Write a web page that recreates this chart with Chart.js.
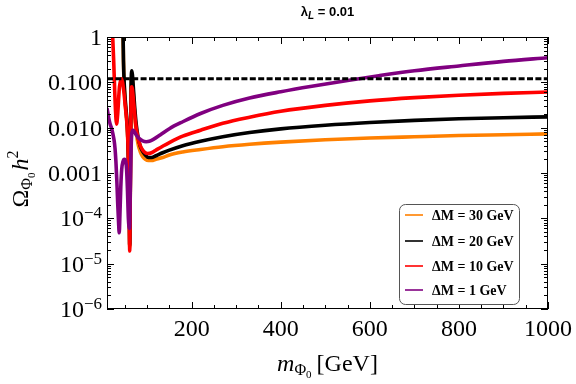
<!DOCTYPE html>
<html><head><meta charset="utf-8">
<script src="https://cdn.jsdelivr.net/npm/chart.js@4.4.1/dist/chart.umd.min.js"></script>
<style>html,body{margin:0;padding:0;background:#fff}</style>
</head><body>
<canvas id="c" width="576" height="384"></canvas>
<script>
// ---------- data ----------
const xMajorTicks = [200, 400, 600, 800, 1000];
const xMinorTicks = [50, 100, 150, 250, 300, 350, 450, 500, 550, 650, 700, 750, 850, 900, 950];
const yMajorTicks = [1e-6, 1e-5, 1e-4, 1e-3, 1e-2, 1e-1, 1];
const yTickLabels = [["10", "\u22126"], ["10", "\u22125"], ["10", "\u22124"], ["0.001", ""], ["0.010", ""], ["0.100", ""], ["1", ""]];
const seriesNames = ["\u0394M = 30 GeV", "\u0394M = 20 GeV", "\u0394M = 10 GeV", "\u0394M = 1 GeV"];
const relicValue = 0.12;

const mass30 = [44, 46, 47, 48.5, 51, 54, 56, 58, 60, 61, 62, 63, 64, 65.5, 67, 69, 72, 76, 80, 85, 90, 96, 103, 110, 120, 135, 150, 180, 220, 270, 330, 400, 500, 600, 700, 800, 900, 1000];
const omega30 = [3, 1.1, 0.28, 0.09, 0.035, 0.016, 0.008, 0.002, 1.4e-4, 2.3e-5, 1.8e-4, 0.004, 0.05, 0.14, 0.12, 0.06, 0.02, 0.0075, 0.0042, 0.0029, 0.0023, 0.002, 0.00188, 0.00188, 0.002, 0.0022, 0.0025, 0.0029, 0.0033, 0.0038, 0.0043, 0.0048, 0.0054, 0.0059, 0.0063, 0.0067, 0.007, 0.0073];

const mass20 = [40, 44, 46, 47, 48.5, 51, 54, 56, 58, 60, 61, 62, 63, 64, 65.5, 67, 69, 72, 76, 80, 85, 90, 96, 103, 110, 120, 135, 150, 180, 220, 270, 330, 400, 500, 600, 700, 800, 900, 1000];
const omega20 = [4, 2, 1.2, 0.3, 0.1, 0.04, 0.018, 0.009, 0.002, 1.5e-4, 2.5e-5, 2e-4, 0.005, 0.07, 0.18, 0.15, 0.08, 0.03, 0.011, 0.006, 0.0038, 0.003, 0.0025, 0.0022, 0.0022, 0.0024, 0.0028, 0.0032, 0.004, 0.005, 0.0063, 0.0078, 0.0094, 0.0113, 0.013, 0.0145, 0.0157, 0.0166, 0.0173];

const mass10 = [18, 21, 23, 25, 27, 29, 31.5, 34, 38, 42.5, 45, 48, 51, 54, 56, 58, 60, 61, 62, 63, 64, 65.5, 67, 70, 74, 78, 84, 90, 96, 101, 110, 120, 135, 150, 180, 220, 270, 330, 400, 500, 600, 700, 800, 900, 1000];
const omega10 = [6, 2, 0.9, 0.3, 0.08, 0.025, 0.012, 0.02, 0.08, 0.12, 0.1, 0.06, 0.03, 0.015, 0.008, 0.002, 1.5e-4, 1.9e-5, 2e-4, 0.004, 0.04, 0.08, 0.07, 0.035, 0.013, 0.007, 0.0042, 0.0032, 0.0028, 0.0027, 0.0028, 0.0032, 0.0039, 0.0047, 0.0065, 0.0088, 0.0125, 0.017, 0.023, 0.031, 0.039, 0.046, 0.052, 0.057, 0.061];

const mass1 = [10, 12, 14, 17, 20, 23, 26, 28, 30, 32, 34, 36, 37.5, 39, 41, 43, 46, 49, 52, 54, 56, 58, 60.5, 62, 63.5, 65, 67, 69, 72, 76, 82, 90, 98, 105, 115, 130, 150, 180, 220, 270, 330, 400, 470, 550, 620, 700, 800, 900, 1000];
const omega1 = [0.027, 0.021, 0.016, 0.012, 0.0098, 0.0075, 0.0052, 0.0035, 0.0018, 7e-4, 2.2e-4, 8e-5, 4.8e-5, 1.2e-4, 5e-4, 1.2e-3, 1.8e-3, 2e-3, 1.8e-3, 1.2e-3, 4e-4, 1e-4, 6e-5, 3e-4, 2e-3, 6e-3, 8.5e-3, 8.7e-3, 8e-3, 6.8e-3, 5.8e-3, 5.1e-3, 4.9e-3, 5.0e-3, 5.6e-3, 7e-3, 9.5e-3, 0.0135, 0.0205, 0.031, 0.045, 0.062, 0.082, 0.11, 0.14, 0.18, 0.23, 0.29, 0.35];

const seriesColors = ["#FF8000", "#000000", "#FF0000", "#800080"];

// ---------- build ----------
const pts = (xs, ys) => xs.map((x, i) => ({x: x, y: ys[i]}));
const lineDs = (label, xs, ys, color, order) => ({
  label, data: pts(xs, ys), borderColor: color, backgroundColor: color,
  borderWidth: 3.6, pointRadius: 0, fill: false, cubicInterpolationMode: 'monotone',
  order, clip: 0, borderJoinStyle: 'round', borderCapStyle: 'butt'
});

const SERIF = '"Liberation Serif", "DejaVu Serif", serif';
const SANS = '"Liberation Sans", Arial, sans-serif';

function drawRuns(ctx, runs, x, y, align) {
  // runs: [{t, font, dy}]
  let w = 0;
  runs.forEach(r => { ctx.font = r.font; r.w = ctx.measureText(r.t).width; w += r.w + (r.gap || 0); });
  let cx = align === 'center' ? x - w / 2 : (align === 'right' ? x - w : x);
  ctx.textAlign = 'left';
  ctx.textBaseline = 'alphabetic';
  runs.forEach(r => { ctx.font = r.font; ctx.fillText(r.t, cx, y + (r.dy || 0)); cx += r.w + (r.gap || 0); });
}

const decorPlugin = {
  id: 'decor',
  afterDatasetsDraw(chart) {
    const ctx = chart.ctx, a = chart.chartArea;
    const xs = chart.scales.x, ys = chart.scales.y;
    ctx.save();
    ctx.fillStyle = '#000'; ctx.strokeStyle = '#000';
    // frame
    ctx.lineWidth = 1;
    ctx.strokeRect(Math.round(a.left) + 0.5, Math.round(a.top) + 0.5, Math.round(a.right - a.left) - 1, Math.round(a.bottom - a.top) - 1);
    // x ticks (bottom and top, inward)
    ctx.beginPath();
    const tickX = (v, len) => {
      const px = Math.round(xs.getPixelForValue(v)) + 0.5;
      ctx.moveTo(px, a.bottom); ctx.lineTo(px, a.bottom - len);
      ctx.moveTo(px, a.top); ctx.lineTo(px, a.top + len);
    };
    xMajorTicks.forEach(v => tickX(v, 7));
    xMinorTicks.forEach(v => tickX(v, 4));
    const tickY = (v, len) => {
      const py = Math.round(ys.getPixelForValue(v)) + 0.5;
      ctx.moveTo(a.left, py); ctx.lineTo(a.left + len, py);
      ctx.moveTo(a.right, py); ctx.lineTo(a.right - len, py);
    };
    yMajorTicks.forEach((v, i) => {
      tickY(v, 7);
      if (i < yMajorTicks.length - 1) for (let k = 2; k <= 9; k++) tickY(v * k, 4);
    });
    ctx.stroke();

    // x tick labels
    ctx.font = '24px ' + SERIF; ctx.textAlign = 'center'; ctx.textBaseline = 'alphabetic';
    xMajorTicks.forEach(v => ctx.fillText(String(v), xs.getPixelForValue(v), 336));
    // y tick labels
    yMajorTicks.forEach((v, i) => {
      const py = ys.getPixelForValue(v);
      const [base, sup] = yTickLabels[i];
      const runs = [{t: base, font: '24px ' + SERIF}];
      if (sup) runs.push({t: sup, font: '17px ' + SERIF, dy: -8});
      drawRuns(ctx, runs, 102, py + 8, 'right');
    });

    // x axis title
    drawRuns(ctx, [
      {t: 'm', font: 'italic 24px ' + SERIF},
      {t: '\u03A6', font: '16px ' + SERIF, dy: 4},
      {t: '0', font: '11px ' + SERIF, dy: 7, gap: 5},
      {t: '[GeV]', font: '24px ' + SERIF}
    ], (a.left + a.right) / 2, 371, 'center');

    // y axis title (rotated)
    ctx.save();
    ctx.translate(28, 179);
    ctx.rotate(-Math.PI / 2);
    drawRuns(ctx, [
      {t: '\u03A9', font: '24px ' + SERIF},
      {t: '\u03A6', font: '16px ' + SERIF, dy: 4},
      {t: '0', font: '11px ' + SERIF, dy: 7, gap: 2},
      {t: 'h', font: 'italic 24px ' + SERIF},
      {t: '2', font: '16px ' + SERIF, dy: -10}
    ], 0, 0, 'center');
    ctx.restore();

    // title
    drawRuns(ctx, [
      {t: '\u03BB', font: 'bold 13px ' + SANS},
      {t: 'L', font: 'bold italic 10px ' + SANS, dy: 3},
      {t: ' = 0.01', font: 'bold 13px ' + SANS}
    ], (a.left + a.right) / 2, 16, 'center');

    // legend
    const bx = 399.5, by = 204.5, bw = 120, bh = 100, r = 6;
    ctx.beginPath();
    ctx.moveTo(bx + r, by);
    ctx.arcTo(bx + bw, by, bx + bw, by + bh, r);
    ctx.arcTo(bx + bw, by + bh, bx, by + bh, r);
    ctx.arcTo(bx, by + bh, bx, by, r);
    ctx.arcTo(bx, by, bx + bw, by, r);
    ctx.closePath();
    ctx.fillStyle = '#fff'; ctx.fill();
    ctx.strokeStyle = '#555'; ctx.lineWidth = 1; ctx.stroke();
    const rowsY = [215, 241, 266, 290];
    seriesNames.forEach((name, i) => {
      ctx.strokeStyle = seriesColors[i]; ctx.lineWidth = 1.6;
      ctx.beginPath(); ctx.moveTo(405, rowsY[i]); ctx.lineTo(423, rowsY[i]); ctx.stroke();
      ctx.fillStyle = '#000';
      ctx.font = 'bold 14px ' + SERIF; ctx.textAlign = 'left'; ctx.textBaseline = 'alphabetic';
      ctx.fillText(name, 432, rowsY[i] + 5);
    });
    ctx.restore();
  }
};

new Chart(document.getElementById('c'), {
  type: 'line',
  data: {
    datasets: [
      lineDs(seriesNames[0], mass30, omega30, seriesColors[0], 4),
      lineDs(seriesNames[1], mass20, omega20, seriesColors[1], 3),
      lineDs(seriesNames[2], mass10, omega10, seriesColors[2], 2),
      lineDs(seriesNames[3], mass1, omega1, seriesColors[3], 1),
      {label: 'relic', data: [{x: 10, y: relicValue}, {x: 1000, y: relicValue}], borderColor: '#000',
       borderWidth: 3, borderDash: [6, 2.4], pointRadius: 0, order: 0, clip: 0}
    ]
  },
  options: {
    responsive: false, animation: false, devicePixelRatio: 1,
    layout: {padding: {top: 37, right: 28, left: 0, bottom: 0}},
    plugins: {legend: {display: false}, title: {display: false}, tooltip: {enabled: false}},
    scales: {
      x: {type: 'linear', min: 10, max: 1000, ticks: {display: false}, grid: {display: false}, border: {display: false},
          afterFit(s) { s.height = 75; }},
      y: {type: 'logarithmic', min: 1e-6, max: 1, ticks: {display: false}, grid: {display: false}, border: {display: false},
          afterFit(s) { s.width = 107; }}
    }
  },
  plugins: [decorPlugin]
});
</script>
</body></html>
